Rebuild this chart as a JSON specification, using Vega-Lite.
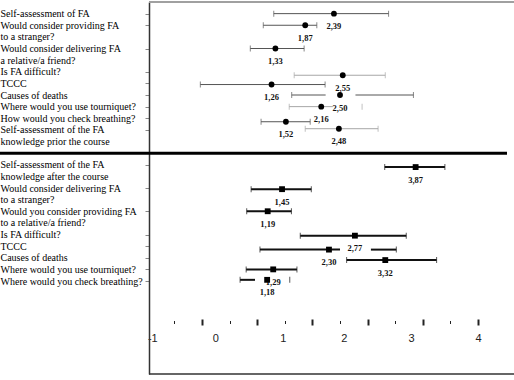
{
  "$schema": "https://vega.github.io/schema/vega-lite/v6.json",
  "width": 366,
  "height": 372,
  "autosize": {"type": "none"},
  "padding": {"left": 149, "top": 2, "right": 0, "bottom": 6},
  "background": "white",
  "config": {
    "view": {"stroke": null},
    "locale": {"number": {"decimal": ",", "thousands": " ", "grouping": [3], "currency": ["", ""]}},
    "axisX": {
      "domain": false, "grid": false, "labelOverlap": false, "labelFlush": false, "labelBound": false,
      "labelFont": "Liberation Sans", "labelFontSize": 11, "labelColor": "#222222", "labelPadding": 7,
      "tickSize": 6, "tickColor": "#222222", "tickCount": 100
    },
    "axisY": {
      "domain": true, "domainColor": "#333333", "domainWidth": 1.5, "grid": false,
      "labelOverlap": false, "labelBound": false, "labelFlush": false,
      "labelAlign": "left", "labelBaseline": "alphabetic", "labelOffset": 3, "labelPadding": 145,
      "labelFont": "Liberation Serif", "labelFontSize": 10, "labelColor": "#000000", "labelLineHeight": 11.6, "labelLimit": 0,
      "tickSize": 4, "tickColor": "#888888", "tickWidth": 1, "tickCount": 100
    }
  },
  "datasets": {
    "items": [
      {"phase": "pre", "question": "Self-assessment of FA", "pos": 1, "value": 2.39, "lo": 1.30, "hi": 3.38},
      {"phase": "pre", "question": "Would consider providing FA to a stranger?", "pos": 2, "value": 1.87, "lo": 1.11, "hi": 2.08},
      {"phase": "pre", "question": "Would consider delivering FA a relative/a friend?", "pos": 4, "value": 1.33, "lo": 0.875, "hi": 1.85},
      {"phase": "pre", "question": "Is FA difficult?", "pos": 6.3, "value": 2.55, "lo": 1.67, "hi": 3.32},
      {"phase": "pre", "question": "TCCC", "pos": 7.1, "value": 1.26, "lo": -0.03, "hi": 2.23},
      {"phase": "pre", "question": "Causes of deaths", "pos": 8, "value": 2.50, "lo": 1.625, "hi": 3.83},
      {"phase": "pre", "question": "Where would you use tourniquet?", "pos": 9, "value": 2.16, "lo": 1.58, "hi": 2.90},
      {"phase": "pre", "question": "How would you check breathing?", "pos": 10.3, "value": 1.52, "lo": 1.07, "hi": 1.96},
      {"phase": "pre", "question": "Self-assessment of the FA knowledge prior the course", "pos": 10.9, "value": 2.48, "lo": 1.87, "hi": 3.19},
      {"phase": "post", "question": "Self-assessment of the FA knowledge after the course", "pos": 14.2, "value": 3.87, "lo": 3.31, "hi": 4.40},
      {"phase": "post", "question": "Would consider delivering FA to a stranger?", "pos": 16.1, "value": 1.45, "lo": 0.89, "hi": 1.98},
      {"phase": "post", "question": "Would you consider providing FA to a relative/a friend?", "pos": 18, "value": 1.19, "lo": 0.81, "hi": 1.62},
      {"phase": "post", "question": "Is FA difficult?", "pos": 20.1, "value": 2.77, "lo": 1.78, "hi": 3.70},
      {"phase": "post", "question": "TCCC", "pos": 21.3, "value": 2.30, "lo": 1.05, "hi": 3.52},
      {"phase": "post", "question": "Causes of deaths", "pos": 22.2, "value": 3.32, "lo": 2.62, "hi": 4.25},
      {"phase": "post", "question": "Where would you use tourniquet?", "pos": 23, "value": 1.29, "lo": 0.80, "hi": 1.72},
      {"phase": "post", "question": "Where would you check breathing?", "pos": 23.9, "value": 1.18, "lo": 0.69, "hi": 1.59}
    ],
    "segments": [
      {"phase": "pre", "question": "Self-assessment of FA", "pos": 1, "start": 1.30, "end": 3.38},
      {"phase": "pre", "question": "Would consider providing FA to a stranger?", "pos": 2, "start": 1.11, "end": 2.08},
      {"phase": "pre", "question": "Would consider delivering FA a relative/a friend?", "pos": 4, "start": 0.875, "end": 1.85},
      {"phase": "pre", "question": "Is FA difficult?", "pos": 6.3, "start": 1.67, "end": 3.32},
      {"phase": "pre", "question": "TCCC", "pos": 7.1, "start": -0.03, "end": 2.23},
      {"phase": "pre", "question": "Causes of deaths", "pos": 8, "start": 1.625, "end": 2.24},
      {"phase": "pre", "question": "Causes of deaths", "pos": 8, "start": 2.78, "end": 3.83},
      {"phase": "pre", "question": "Where would you use tourniquet?", "pos": 9, "start": 1.58, "end": 2.37},
      {"phase": "pre", "question": "How would you check breathing?", "pos": 10.3, "start": 1.07, "end": 1.96},
      {"phase": "pre", "question": "Self-assessment of the FA knowledge prior the course", "pos": 10.9, "start": 1.87, "end": 3.19},
      {"phase": "post", "question": "Self-assessment of the FA knowledge after the course", "pos": 14.2, "start": 3.31, "end": 4.40},
      {"phase": "post", "question": "Would consider delivering FA to a stranger?", "pos": 16.1, "start": 0.89, "end": 1.98},
      {"phase": "post", "question": "Would you consider providing FA to a relative/a friend?", "pos": 18, "start": 0.81, "end": 1.62},
      {"phase": "post", "question": "Is FA difficult?", "pos": 20.1, "start": 1.78, "end": 3.70},
      {"phase": "post", "question": "TCCC", "pos": 21.3, "start": 1.05, "end": 2.50},
      {"phase": "post", "question": "TCCC", "pos": 21.3, "start": 3.06, "end": 3.52},
      {"phase": "post", "question": "Causes of deaths", "pos": 22.2, "start": 2.62, "end": 4.25},
      {"phase": "post", "question": "Where would you use tourniquet?", "pos": 23, "start": 0.80, "end": 1.72},
      {"phase": "post", "question": "Where would you check breathing?", "pos": 23.9, "start": 0.69, "end": 0.96}
    ]
  },
  "layer": [
    {
      "data": {"values": [{}]},
      "mark": {"type": "rule", "color": "#a0a0a0", "strokeWidth": 2},
      "encoding": {"y": {"datum": 0, "type": "quantitative"}}
    },
    {
      "data": {"values": [{}]},
      "mark": {"type": "rule", "color": "#333333", "strokeWidth": 1.5},
      "encoding": {"y": {"datum": 32, "type": "quantitative"}}
    },
    {
      "data": {"name": "segments"},
      "mark": {"type": "rule"},
      "encoding": {
        "x": {"field": "start", "type": "quantitative", "axis": {"title": null}},
        "x2": {"field": "end"},
        "y": {"field": "pos", "type": "quantitative", "axis": {"title": null}},
        "color": {"condition": [
          {"test": "datum.phase == 'post'", "value": "#111111"},
          {"test": "datum.question == 'Is FA difficult?' || datum.question == 'Where would you use tourniquet?' || datum.question == 'Self-assessment of the FA knowledge prior the course'", "value": "#a6a6a6"}
        ], "value": "#555555"},
        "strokeWidth": {"condition": {"test": "datum.phase == 'post'", "value": 2}, "value": 1}
      }
    },
    {
      "data": {"name": "items"},
      "transform": [{"fold": ["lo", "hi"], "as": ["side", "at"]}],
      "mark": {"type": "tick", "orient": "vertical", "size": 6, "thickness": 1},
      "encoding": {
        "x": {"field": "at", "type": "quantitative", "axis": {"title": null}},
        "y": {"field": "pos", "type": "quantitative", "axis": {"title": null}},
        "color": {"condition": [
          {"test": "datum.phase == 'post'", "value": "#111111"},
          {"test": "datum.question == 'Is FA difficult?' || datum.question == 'Where would you use tourniquet?' || datum.question == 'Self-assessment of the FA knowledge prior the course'", "value": "#a6a6a6"}
        ], "value": "#555555"}
      }
    },
    {
      "data": {"name": "items"},
      "mark": {"type": "text", "font": "Liberation Serif", "fontWeight": "bold", "fontSize": 8.5, "color": "#111111", "baseline": "middle", "align": "center", "dy": 12.5},
      "encoding": {
        "x": {"field": "value", "type": "quantitative", "axis": {"title": null}},
        "y": {"field": "pos", "type": "quantitative", "axis": {"title": null}},
        "text": {"field": "value", "type": "quantitative", "format": ".2f"}
      }
    },
    {
      "data": {"name": "items"},
      "mark": {"type": "point", "filled": true, "opacity": 1, "color": "#000000", "size": 34},
      "encoding": {
        "x": {
          "field": "value", "type": "quantitative",
          "scale": {"domain": [-0.96, 5.67], "nice": false, "zero": false},
          "axis": {
            "title": null, "orient": "bottom", "offset": -55, "tickCount": 100,
            "values": [-0.9, -0.5, 0, 0.241, 0.5, 1, 1.462, 1.5, 2, 2.5, 2.567, 3, 3.5, 3.786, 4, 4.5, 5],
            "labelExpr": "datum.value == -0.9 ? '-1' : datum.value == 0.241 ? '0' : datum.value == 1.462 ? '1' : datum.value == 2.567 ? '2' : datum.value == 3.786 ? '3' : datum.value == 5 ? '4' : ''",
            "tickWidth": {"condition": {"test": "abs(datum.value % 1) == 0.5", "value": 1}, "value": 2},
            "tickDash": {"condition": {"test": "abs(datum.value % 1) == 0.5", "value": [0, 1.5, 3, 20]}, "value": [6, 0]},
            "tickOpacity": {"condition": {"test": "abs(datum.value % 0.5) > 0.001", "value": 0}, "value": 1}
          }
        },
        "y": {
          "field": "pos", "type": "quantitative",
          "scale": {"domain": [0, 32], "reverse": true, "nice": false, "zero": false},
          "axis": {
            "title": null, "orient": "left", "tickCount": 100,
            "values": [1, 2, 4, 6, 7, 8, 9, 10, 11, 14, 16, 18, 20, 21, 22, 23, 24],
            "labelExpr": "datum.value == 1 ? 'Self-assessment of FA' : datum.value == 2 ? ['Would consider providing FA', 'to a stranger?'] : datum.value == 4 ? ['Would consider delivering FA', 'a relative/a friend?'] : datum.value == 6 ? 'Is FA difficult?' : datum.value == 7 ? 'TCCC' : datum.value == 8 ? 'Causes of deaths' : datum.value == 9 ? 'Where would you use tourniquet?' : datum.value == 10 ? 'How would you check breathing?' : datum.value == 11 ? ['Self-assessment of the FA', 'knowledge prior the course'] : datum.value == 14 ? ['Self-assessment of the FA', 'knowledge after the course'] : datum.value == 16 ? ['Would consider delivering FA', 'to a stranger?'] : datum.value == 18 ? ['Would you consider providing FA', 'to a relative/a friend?'] : datum.value == 20 ? 'Is FA difficult?' : datum.value == 21 ? 'TCCC' : datum.value == 22 ? 'Causes of deaths' : datum.value == 23 ? 'Where would you use tourniquet?' : datum.value == 24 ? 'Where would you check breathing?' : ''"
          }
        },
        "shape": {"field": "phase", "type": "nominal", "scale": {"domain": ["pre", "post"], "range": ["circle", "square"]}, "legend": null}
      }
    },
    {
      "data": {"values": [{}]},
      "mark": {"type": "rule", "color": "#000000", "strokeWidth": 3},
      "encoding": {
        "x": {"datum": -3.66, "type": "quantitative"},
        "x2": {"datum": 5.525},
        "y": {"datum": 13, "type": "quantitative"}
      }
    }
  ]
}
